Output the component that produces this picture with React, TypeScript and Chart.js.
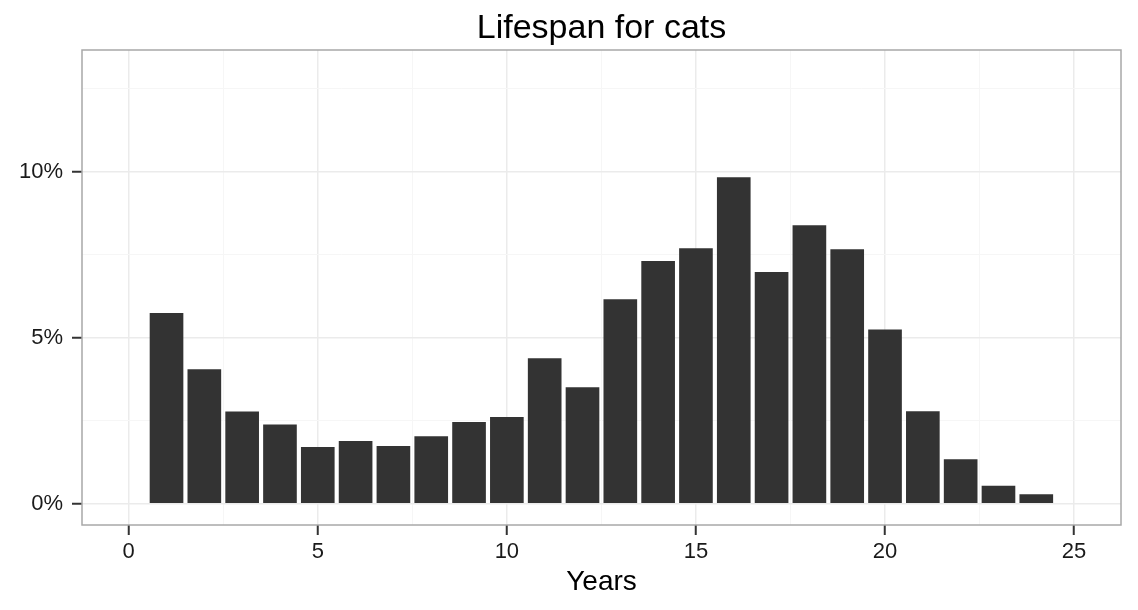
import React, { useEffect, useRef } from "react";
import { Chart, registerables } from "chart.js";

Chart.register(...registerables);

const years = [1, 2, 3, 4, 5, 6, 7, 8, 9, 10, 11, 12, 13, 14, 15, 16, 17, 18, 19, 20, 21, 22, 23, 24];
const lifespanPct = [5.75, 4.05, 2.78, 2.39, 1.71, 1.89, 1.74, 2.03, 2.46, 2.61, 4.38, 3.51, 6.16, 7.31, 7.7, 9.84, 6.98, 8.39, 7.67, 5.25, 2.79, 1.34, 0.54, 0.29];
const xMajorTicks = [0, 5, 10, 15, 20, 25];
const xMinorTicks = [2.5, 7.5, 12.5, 17.5, 22.5];
const yMajorTicks = [0, 5, 10];
const yMinorTicks = [2.5, 7.5, 12.5];

const chartTitle = "Lifespan for cats";
const xTitle = "Years";
const FONT = "'Liberation Sans', Arial, Helvetica, sans-serif";

export default function App() {
  const ref = useRef<HTMLCanvasElement | null>(null);

  useEffect(() => {
    if (!ref.current) return;
    const tickVal = (c: any) => (c && c.tick ? Number(c.tick.value) : NaN);
    const isMajorX = (c: any) => xMajorTicks.includes(tickVal(c));
    const isMajorY = (c: any) => yMajorTicks.includes(tickVal(c));

    const panelPlugin = {
      id: "panel",
      afterDatasetsDraw(chart: any) {
        const { ctx, chartArea } = chart;
        ctx.save();
        ctx.strokeStyle = "#A8A8A8";
        ctx.lineWidth = 1.5;
        ctx.strokeRect(chartArea.left, chartArea.top, chartArea.right - chartArea.left, chartArea.bottom - chartArea.top);
        ctx.restore();
      },
      afterDraw(chart: any) {
        const { ctx, chartArea } = chart;
        ctx.save();
        ctx.fillStyle = "#000000";
        ctx.font = `34px ${FONT}`;
        ctx.textAlign = "center";
        ctx.textBaseline = "alphabetic";
        ctx.fillText(chartTitle, (chartArea.left + chartArea.right) / 2, 38);
        ctx.restore();
      },
    };

    const chart = new Chart(ref.current, {
      type: "bar",
      data: {
        datasets: [
          {
            label: "Lifespan",
            data: years.map((y, i) => ({ x: y, y: lifespanPct[i] })),
            backgroundColor: "#333333",
            borderWidth: 0,
            categoryPercentage: 1,
            barPercentage: 0.89,
          },
        ],
      },
      options: {
        animation: false,
        responsive: false,
        layout: { padding: { left: 0, right: 17, top: 50, bottom: 0 } },
        plugins: {
          legend: { display: false },
          tooltip: { enabled: false },
          title: { display: false },
        },
        scales: {
          x: {
            type: "linear",
            min: -1.235,
            max: 26.24,
            offset: false,
            afterBuildTicks: (scale: any) => {
              scale.ticks = [...xMajorTicks, ...xMinorTicks].sort((a, b) => a - b).map((v) => ({ value: v }));
            },
            afterFit: (scale: any) => {
              scale.height = 85;
            },
            border: { display: false },
            grid: {
              offset: false,
              color: (c: any) => (isMajorX(c) ? "#EBEBEB" : "#F6F6F6"),
              lineWidth: (c: any) => (isMajorX(c) ? 1.5 : 1),
              tickColor: (c: any) => (isMajorX(c) ? "#333333" : "rgba(0,0,0,0)"),
              tickWidth: 2,
              tickLength: 10,
              drawTicks: true,
            },
            ticks: {
              autoSkip: false,
              maxRotation: 0,
              padding: 4,
              color: "#1A1A1A",
              font: { family: FONT, size: 22 },
              callback: (v: any) => (xMajorTicks.includes(Number(v)) ? String(v) : ""),
            },
            title: {
              display: true,
              text: xTitle,
              color: "#000000",
              font: { family: FONT, size: 28 },
              padding: { top: 0, bottom: 11 },
            },
          },
          y: {
            type: "linear",
            min: -0.64,
            max: 13.67,
            afterBuildTicks: (scale: any) => {
              scale.ticks = [...yMajorTicks, ...yMinorTicks].sort((a, b) => a - b).map((v) => ({ value: v }));
            },
            afterFit: (scale: any) => {
              scale.width = 82;
            },
            border: { display: false },
            grid: {
              color: (c: any) => (isMajorY(c) ? "#EBEBEB" : "#F6F6F6"),
              lineWidth: (c: any) => (isMajorY(c) ? 1.5 : 1),
              tickColor: (c: any) => (isMajorY(c) ? "#333333" : "rgba(0,0,0,0)"),
              tickWidth: 2,
              tickLength: 10,
            },
            ticks: {
              autoSkip: false,
              padding: 9,
              color: "#1A1A1A",
              font: { family: FONT, size: 22 },
              callback: (v: any) => (yMajorTicks.includes(Number(v)) ? `${v}%` : ""),
            },
          },
        },
      },
      plugins: [panelPlugin],
    });
    return () => chart.destroy();
  }, []);

  return (
    <div style={{ position: "absolute", left: 0, top: 0, width: 1138, height: 610, background: "#fff" }}>
      <canvas ref={ref} width={1138} height={610} style={{ width: 1138, height: 610, display: "block" }} />
    </div>
  );
}
